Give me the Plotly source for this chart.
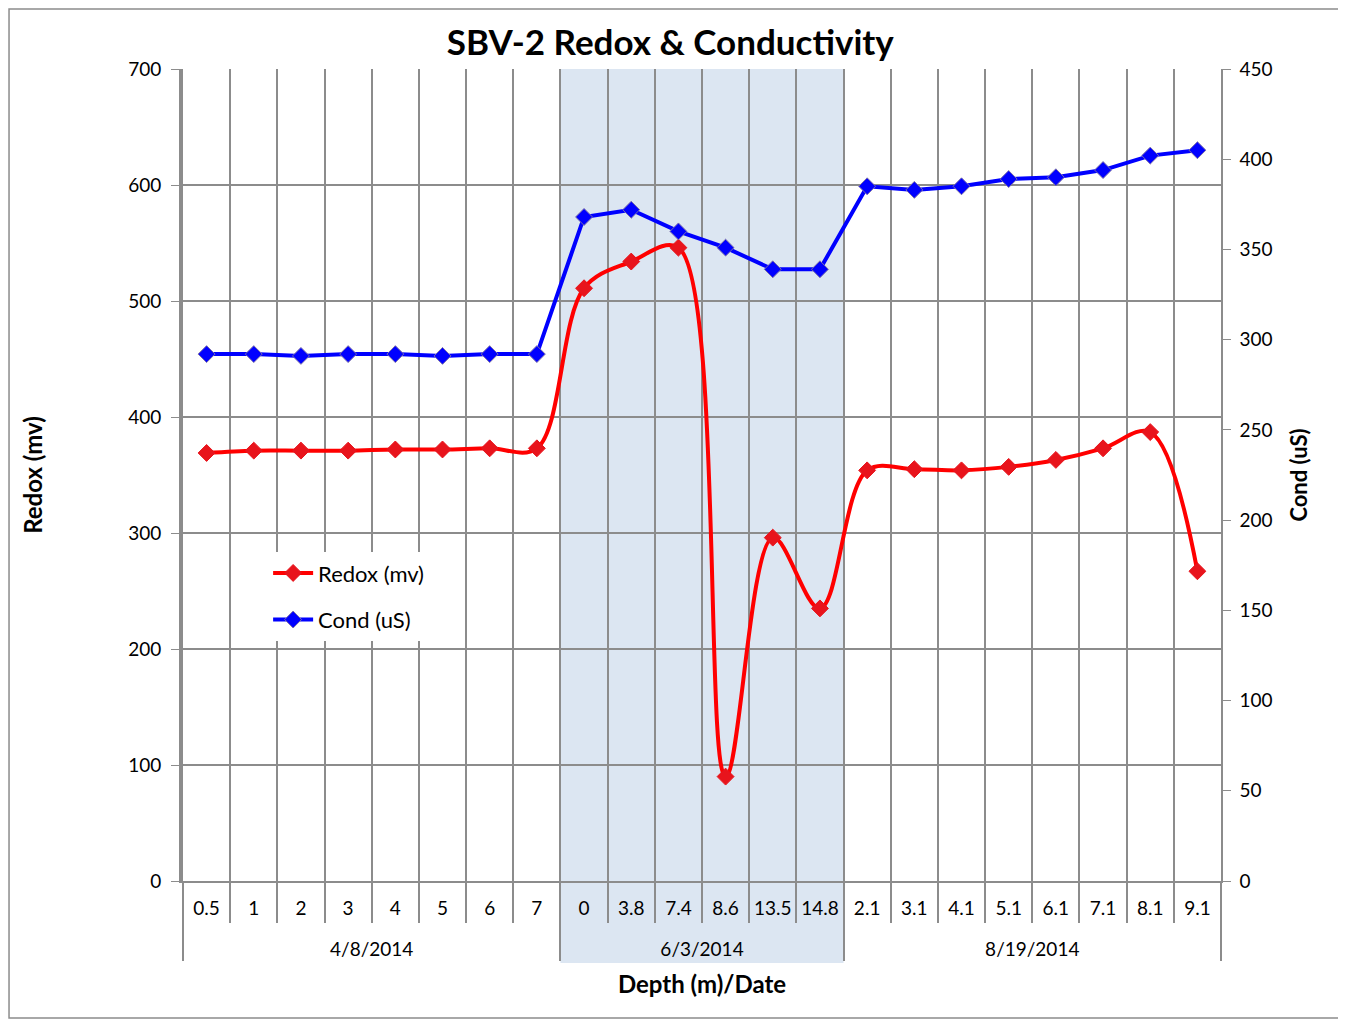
import plotly.graph_objects as go

# ---- data ----
dates = ["4/8/2014"] * 8 + ["6/3/2014"] * 6 + ["8/19/2014"] * 8
depths = ["0.5", "1", "2", "3", "4", "5", "6", "7",
          "0", "3.8", "7.4", "8.6", "13.5", "14.8",
          "2.1", "3.1", "4.1", "5.1", "6.1", "7.1", "8.1", "9.1"]
redox = [369, 371, 371, 371, 372, 372, 373, 373,
         511, 534, 546, 90, 296, 235,
         354, 355, 354, 357, 363, 373, 387, 267]
cond = [292, 292, 291, 292, 292, 291, 292, 292,
        368, 372, 360, 351, 339, 339,
        385, 383, 385, 389, 390, 394, 402, 405]
shaded_date = "6/3/2014"

FONT = "Lato"
GRID = "#8c8c8c"

# second-level labels pushed down one line to leave room like the original
date_labels = ["<br>" + d for d in dates]
xcats = [date_labels, depths]

fig = go.Figure()
fig.add_trace(go.Scatter(
    x=xcats, y=redox, name="Redox (mv)", mode="lines+markers",
    line=dict(color="#ff0000", width=4, shape="spline", smoothing=1),
    marker=dict(symbol="diamond", size=13, color="#e8141c",
                line=dict(color="#e8141c", width=1)),
    legendgroup="a"))
fig.add_trace(go.Scatter(
    x=xcats, y=cond, name="Cond (uS)", mode="lines+markers",
    yaxis="y2",
    line=dict(color="#0000ff", width=4),
    marker=dict(symbol="diamond", size=13, color="#0000ff",
                line=dict(color="#7b6fa8", width=1)),
    legendgroup="b"))

i0 = dates.index(shaded_date)
i1 = len(dates) - 1 - dates[::-1].index(shaded_date)
fig.add_shape(type="rect", xref="x", yref="paper",
              x0=i0 - 0.5, x1=i1 + 0.5, y0=-0.101, y1=1,
              fillcolor="#dce6f2", line=dict(width=0), layer="below")
# outer chart border
fig.add_shape(type="rect", xref="paper", yref="paper",
              x0=-0.1676, x1=1.1175, y0=-0.1687, y1=1.0739,
              line=dict(color="#8c8c8c", width=1.5), fillcolor="rgba(0,0,0,0)")

fig.update_layout(
    width=1338, height=1012,
    margin=dict(l=175, r=125, t=61, b=139),
    paper_bgcolor="white", plot_bgcolor="rgba(0,0,0,0)",
    font=dict(family=FONT, size=18, color="#000000"),
    title=dict(text="<b>SBV-2 Redox &amp; Conductivity</b>", x=0.495, xanchor="center",
               y=0.966, yanchor="middle", font=dict(size=35, family=FONT)),
    showlegend=True,
    legend=dict(x=0.082, y=0.405, xanchor="left", yanchor="top",
                bgcolor="white", borderwidth=0, font=dict(size=22, family=FONT),
                tracegroupgap=15, itemwidth=40),
    xaxis=dict(
        type="multicategory", range=[-0.5, len(depths) - 0.5],
        tickson="boundaries", ticks="outside", ticklen=40,
        tickcolor=GRID, tickwidth=1.5, tickangle=0, ticklabelstandoff=9,
        showgrid=True, gridcolor=GRID, gridwidth=1.5,
        showline=True, linecolor=GRID, linewidth=2,
        showdividers=True, dividercolor=GRID, dividerwidth=1.5,
        tickfont=dict(size=19),
        title=dict(text="<b>Depth (m)/Date</b>", font=dict(size=24), standoff=18),
    ),
    yaxis=dict(
        range=[0, 700], dtick=100, ticks="outside", ticklen=8, tickcolor=GRID,
        showgrid=True, gridcolor=GRID, gridwidth=1.5,
        showline=True, linecolor="#8c8c8c", linewidth=4,
        tickfont=dict(size=19), zeroline=False, ticklabelstandoff=6,
        title=dict(text="<b>Redox (mv)</b>", font=dict(size=24), standoff=80),
    ),
    yaxis2=dict(
        range=[0, 450], dtick=50, overlaying="y", side="right",
        ticks="outside", ticklen=8, tickcolor=GRID, showgrid=False,
        showline=True, linecolor=GRID, linewidth=1.5, zeroline=False,
        tickfont=dict(size=19), ticklabelstandoff=5,
        title=dict(text="<b>Cond (uS)</b>", font=dict(size=22), standoff=20),
    ),
)

fig.write_html("out.html")
